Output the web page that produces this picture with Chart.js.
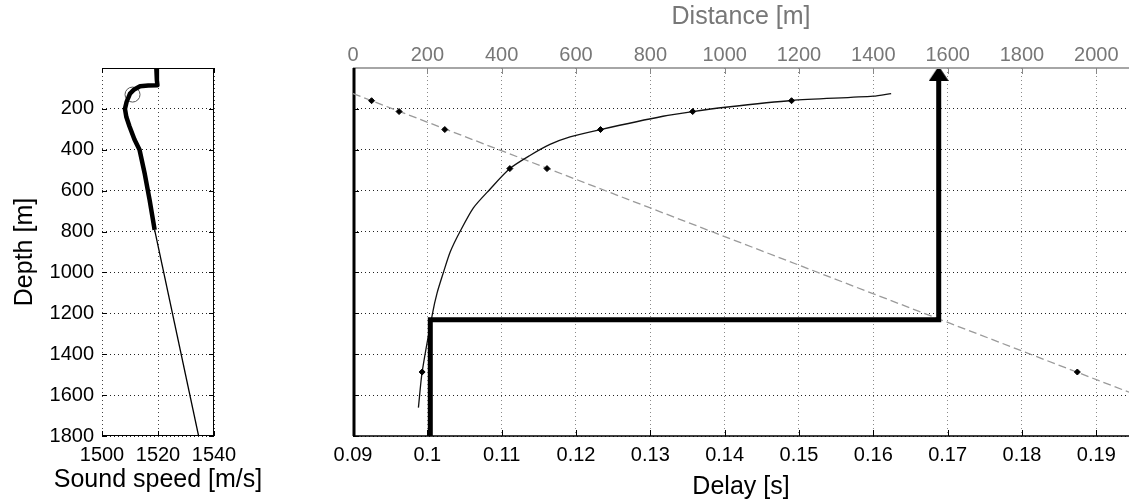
<!DOCTYPE html>
<html><head><meta charset="utf-8">
<script src="https://cdn.jsdelivr.net/npm/chart.js@4.4.1/dist/chart.umd.min.js"></script>
<style>
html,body{margin:0;padding:0;background:#fff;width:1129px;height:504px;overflow:hidden}
#cl{position:absolute;left:0;top:0}
#cr{position:absolute;left:250px;top:0}
</style></head><body>
<canvas id="cl" width="300" height="504"></canvas>
<canvas id="cr" width="879" height="504"></canvas>
<script>
// ---- tick values ----
const depthTicks = [200, 400, 600, 800, 1000, 1200, 1400, 1600, 1800];
const speedTicks = [1500, 1520, 1540];
const delayTicks = [0.09, 0.10, 0.11, 0.12, 0.13, 0.14, 0.15, 0.16, 0.17, 0.18, 0.19];
const distanceTicks = [0, 200, 400, 600, 800, 1000, 1200, 1400, 1600, 1800, 2000];

// ---- left panel: sound speed profile ----
const profileThickSpeed = [1519.4, 1519.6, 1519.8, 1516.5, 1513.6, 1511.5, 1510.0, 1508.8, 1508.2, 1508.7, 1509.8, 1511.6, 1513.4, 1515.3, 1517.0, 1518.8];
const profileThickDepth = [0, 60, 84, 86, 89, 105, 125, 165, 200, 240, 285, 350, 400, 520, 645, 792];
const profileThinSpeed = [1518.8, 1534.5];
const profileThinDepth = [792, 1800];
const circleSpeed = [1510.9];
const circleDepth = [130];

// ---- right panel ----
const curveDelay = [0.1624, 0.1600, 0.1490, 0.1401, 0.1357, 0.1317, 0.1233, 0.1192, 0.1165, 0.1138, 0.1111, 0.1084, 0.1062, 0.1044, 0.1031, 0.1022, 0.1013, 0.1007, 0.0993, 0.0988];
const curveDepth = [125, 138, 159, 192, 213, 236, 301, 337, 374, 428, 492, 594, 684, 800, 898, 996, 1102, 1200, 1488, 1661];
const markDepth = [160, 213, 301, 492, 1487];
const curveMarkDelay = [0.1490, 0.1357, 0.1233, 0.1111, 0.0993];
const slantMarkDistance = [50, 124, 247, 522, 1949];
const slantDistance = [0, 2090];
const slantDepth = [125, 1587];
const pathDelay = [0.1004, 0.1004, 0.1688, 0.1688];
const pathDepth = [1800, 1231, 1231, 50];
const arrowDelay = [0.1688];
const arrowDepth = [34];

const FONT = "'Liberation Sans', Arial, Helvetica, sans-serif";
const pts = (xs, ys) => xs.map((x, i) => ({x: x, y: ys[i]}));
const setTicks = arr => (s => { s.ticks = arr.map(v => ({value: v})); });
const plain = v => String(Number(Number(v).toFixed(4)));

const framePlugin = {
  id: 'frame',
  beforeDatasetsDraw(chart, args, o) {
    const {ctx, chartArea: a, scales} = chart;
    ctx.save();
    (o.edges || []).forEach(e => {
      const off = (e.width % 2 === 1) ? 0.5 : 0;
      const L = Math.round(a.left) + off, R = Math.round(a.right) - off,
            T = Math.round(a.top) + off, B = Math.round(a.bottom) - off;
      ctx.strokeStyle = e.color; ctx.lineWidth = e.width;
      ctx.beginPath();
      if (e.side === 'left') { ctx.moveTo(L + (e.shift||0), a.top); ctx.lineTo(L + (e.shift||0), a.bottom); }
      if (e.side === 'right') { ctx.moveTo(R, a.top); ctx.lineTo(R, a.bottom); }
      if (e.side === 'top') { ctx.moveTo(a.left, T); ctx.lineTo(a.right, T); }
      if (e.side === 'bottom') { ctx.moveTo(a.left, B); ctx.lineTo(a.right, B); }
      ctx.stroke();
      if (e.scale) {
        const s = scales[e.scale];
        ctx.lineWidth = e.tickWidth || 1;
        ctx.beginPath();
        s.ticks.forEach(t => {
          const p = Math.round(s.getPixelForValue(t.value)) + 0.5;
          if (e.side === 'left') { ctx.moveTo(a.left, p); ctx.lineTo(a.left + e.len, p); }
          if (e.side === 'right') { ctx.moveTo(a.right, p); ctx.lineTo(a.right - e.len, p); }
          if (e.side === 'top') { ctx.moveTo(p, a.top); ctx.lineTo(p, a.top + e.len); }
          if (e.side === 'bottom') { ctx.moveTo(p, a.bottom); ctx.lineTo(p, a.bottom - e.len); }
        });
        ctx.stroke();
      }
    });
    ctx.restore();
  },
  afterDraw(chart, args, o) {
    if (!o.caption) return;
    const {ctx, chartArea: a} = chart;
    const c = o.caption;
    ctx.save();
    ctx.font = c.size + 'px ' + FONT;
    ctx.fillStyle = c.color;
    ctx.textAlign = 'center';
    ctx.textBaseline = 'alphabetic';
    ctx.fillText(c.text, (a.left + a.right) / 2, c.baseline);
    ctx.restore();
  }
};

// ---------------- LEFT CHART ----------------
new Chart(document.getElementById('cl'), {
  type: 'line',
  data: {
    datasets: [
      {data: pts(profileThickSpeed, profileThickDepth), borderColor: '#000', borderWidth: 4.5, pointRadius: 0, tension: 0, borderJoinStyle: 'round'},
      {data: pts(profileThinSpeed, profileThinDepth), borderColor: '#000', borderWidth: 1.3, pointRadius: 0},
      {data: pts(circleSpeed, circleDepth), showLine: false, pointStyle: 'circle', pointRadius: 7.5, pointBorderWidth: 1, pointBorderColor: '#555', pointBackgroundColor: 'rgba(0,0,0,0)'}
    ]
  },
  options: {
    responsive: false, animation: false,
    layout: {autoPadding: false, padding: {left: 0, right: 86, top: 68, bottom: 0}},
    plugins: {legend: {display: false}, tooltip: {enabled: false},
      frame: {
        caption: {text: 'Sound speed [m/s]', size: 25, color: '#000', baseline: 487},
        edges: [
        {side: 'left', color: '#000', width: 1, scale: 'y', len: 5},
        {side: 'right', color: '#000', width: 1, scale: 'y', len: 5},
        {side: 'top', color: '#000', width: 1, scale: 'x', len: 5},
        {side: 'bottom', color: '#000', width: 1, scale: 'x', len: 5}]}},
    scales: {
      x: {type: 'linear', position: 'bottom', min: 1500, max: 1540,
        afterBuildTicks: setTicks(speedTicks), afterFit: s => { s.height = 68; },
        grid: {color: '#444', lineWidth: 1, drawTicks: false}, border: {display: false, dash: [1, 3]},
        ticks: {color: '#000', font: {family: FONT, size: 20}, padding: 7, maxRotation: 0, autoSkip: false, callback: plain},
        title: {display: false}},
      y: {type: 'linear', position: 'left', reverse: true, min: 0, max: 1800,
        afterBuildTicks: setTicks(depthTicks), afterFit: s => { s.width = 102; },
        grid: {color: '#222', lineWidth: 1, drawTicks: false}, border: {display: false, dash: [1, 3]},
        ticks: {color: '#000', font: {family: FONT, size: 20}, padding: 8, autoSkip: false, callback: plain},
        title: {display: true, text: 'Depth [m]', color: '#000', font: {family: FONT, size: 25}, padding: {top: 10, bottom: 0}}}
    }
  },
  plugins: [framePlugin]
});

// ---------------- RIGHT CHART ----------------
const arrowImg = document.createElement('canvas');
arrowImg.width = 20; arrowImg.height = 12;
(function () {
  const g = arrowImg.getContext('2d');
  g.fillStyle = '#000';
  g.beginPath(); g.moveTo(8, 0); g.lineTo(12, 0); g.lineTo(20, 12); g.lineTo(0, 12); g.closePath(); g.fill();
})();

new Chart(document.getElementById('cr'), {
  type: 'line',
  data: {
    datasets: [
      {data: pts(arrowDelay, arrowDepth), xAxisID: 'x', showLine: false, pointStyle: arrowImg, pointRadius: 10, clip: false},
      {data: pts(pathDelay, pathDepth), xAxisID: 'x', borderColor: '#000', borderWidth: 5, pointRadius: 0, borderJoinStyle: 'miter', borderCapStyle: 'butt'},
      {data: pts(curveMarkDelay, markDepth), xAxisID: 'x', showLine: false, pointStyle: 'rectRot', pointRadius: 3, pointBackgroundColor: '#000', pointBorderColor: '#000', pointBorderWidth: 1},
      {data: pts(slantMarkDistance, markDepth), xAxisID: 'xTop', showLine: false, pointStyle: 'rectRot', pointRadius: 3, pointBackgroundColor: '#000', pointBorderColor: '#000', pointBorderWidth: 1},
      {data: pts(curveDelay, curveDepth), xAxisID: 'x', borderColor: '#111', borderWidth: 1.3, pointRadius: 0, tension: 0.25},
      {data: pts(slantDistance, slantDepth), xAxisID: 'xTop', borderColor: '#9a9a9a', borderWidth: 1.3, borderDash: [8, 4], pointRadius: 0}
    ]
  },
  options: {
    responsive: false, animation: false,
    layout: {autoPadding: false, padding: {left: 0, right: 0, top: 0, bottom: 0}},
    plugins: {legend: {display: false}, tooltip: {enabled: false},
      frame: {edges: [
        {side: 'top', color: '#888', width: 1.5, scale: 'xTop', len: 6},
        {side: 'bottom', color: '#000', width: 1.5, scale: 'x', len: 6},
        {side: 'left', color: '#000', width: 3, scale: 'y', len: 6, shift: 0.5}]}},
    scales: {
      x: {type: 'linear', position: 'bottom', min: 0.09, max: 0.1944,
        afterBuildTicks: setTicks(delayTicks), afterFit: s => { s.height = 68; },
        grid: {color: '#8a8a8a', lineWidth: 1, drawTicks: false}, border: {display: false, dash: [1, 3]},
        ticks: {color: '#000', font: {family: FONT, size: 20}, padding: 7, maxRotation: 0, autoSkip: false, callback: plain},
        title: {display: true, text: 'Delay [s]', color: '#000', font: {family: FONT, size: 25}, padding: {top: 0, bottom: 2}}},
      xTop: {type: 'linear', position: 'top', min: 0, max: 2088,
        afterBuildTicks: setTicks(distanceTicks), afterFit: s => { s.height = 68; },
        grid: {display: false, drawTicks: false}, border: {display: false},
        ticks: {color: '#777', font: {family: FONT, size: 20}, padding: 1, maxRotation: 0, autoSkip: false, callback: plain},
        title: {display: true, text: 'Distance [m]', color: '#777', font: {family: FONT, size: 25}, padding: {top: 2, bottom: 0}}},
      y: {type: 'linear', position: 'left', reverse: true, min: 0, max: 1800,
        afterBuildTicks: setTicks(depthTicks), afterFit: s => { s.width = 103; },
        grid: {color: '#222', lineWidth: 1, drawTicks: false}, border: {display: false, dash: [1, 3]},
        ticks: {display: false}}
    }
  },
  plugins: [framePlugin]
});
</script>
</body></html>
